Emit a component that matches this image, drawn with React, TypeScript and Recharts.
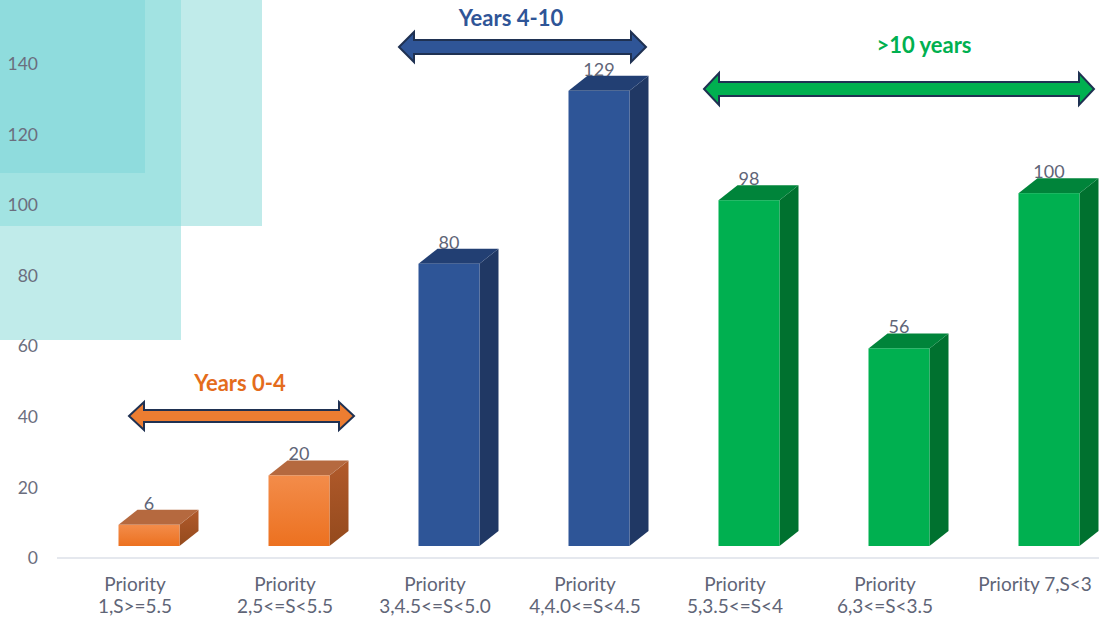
import { BarChart, Bar, XAxis, YAxis, LabelList } from 'recharts';

const categories = [
  'Priority 1,S>=5.5',
  'Priority 2,5<=S<5.5',
  'Priority 3,4.5<=S<5.0',
  'Priority 4,4.0<=S<4.5',
  'Priority 5,3.5<=S<4',
  'Priority 6,3<=S<3.5',
  'Priority 7,S<3',
];
const counts = [6, 20, 80, 129, 98, 56, 100];
const yTicks = [0, 20, 40, 60, 80, 100, 120, 140];

const data = categories.map((name, i) => ({ name, value: counts[i] }));

const FONT = 'Lato, "Open Sans", sans-serif';
const DX = 19;
const DY = 15;
const LIFT = 12;

const palette = [
  { front: 'url(#orangeFront)', side: 'url(#orangeSide)', top: '#b5693f' },
  { front: 'url(#orangeFront)', side: 'url(#orangeSide)', top: '#b5693f' },
  { front: '#2e5597', side: '#203864', top: '#223f73' },
  { front: '#2e5597', side: '#203864', top: '#223f73' },
  { front: '#00b050', side: '#00712f', top: '#00843a' },
  { front: '#00b050', side: '#00712f', top: '#00843a' },
  { front: '#00b050', side: '#00712f', top: '#00843a' },
];

function Bar3D(props: any) {
  const { x, y, width, height, index } = props;
  const c = palette[index];
  const top = y - LIFT;
  const bottom = top + height;
  const r = x + width;
  return (
    <g>
      <polygon
        points={`${r},${top} ${r + DX},${top - DY} ${r + DX},${bottom - DY} ${r},${bottom}`}
        fill={c.side}
      />
      <polygon
        points={`${x},${top} ${x + DX},${top - DY} ${r + DX},${top - DY} ${r},${top}`}
        fill={c.top}
      />
      <rect x={x} y={top} width={width} height={height} fill={c.front} />
    </g>
  );
}

function ValueLabel(props: any) {
  const { x, y, width, value } = props;
  return (
    <text x={x + width / 2} y={y - LIFT - 15} textAnchor="middle" fill="#5f6577" fontSize={18} fontFamily={FONT}>
      {value}
    </text>
  );
}

function CategoryTick(props: any) {
  const { x, y, payload } = props;
  const label: string = payload.value;
  const lines = label.length > 14 ? [label.slice(0, label.indexOf(' ')), label.slice(label.indexOf(' ') + 1)] : [label];
  return (
    <text x={x - 13.5} y={y} textAnchor="middle" fill="#5f6577" fontSize={19} fontFamily={FONT}>
      {lines.map((ln, i) => (
        <tspan key={i} x={x - 13.5} dy={i === 0 ? 25 : 22}>
          {ln}
        </tspan>
      ))}
    </text>
  );
}

function arrowPoints(x1: number, x2: number, cy: number, h: number, H: number, t: number) {
  return [
    [x1, cy], [x1 + h, cy - H], [x1 + h, cy - t], [x2 - h, cy - t], [x2 - h, cy - H],
    [x2, cy], [x2 - h, cy + H], [x2 - h, cy + t], [x1 + h, cy + t], [x1 + h, cy + H],
  ].map((p) => p.join(',')).join(' ');
}

export default function App() {
  return (
    <div style={{ position: 'absolute', left: 0, top: 0, width: 1099, height: 626, overflow: 'hidden', background: '#fff' }}>
      {/* teal decoration top-left */}
      <div style={{ position: 'absolute', left: 0, top: 0, width: 262, height: 226, background: '#c0ebea' }} />
      <div style={{ position: 'absolute', left: 0, top: 0, width: 181, height: 340, background: '#c0ebea' }} />
      <div style={{ position: 'absolute', left: 0, top: 0, width: 181, height: 226, background: '#a2e3e2' }} />
      <div style={{ position: 'absolute', left: 0, top: 0, width: 145, height: 173, background: '#8fdcdd' }} />

      <div style={{ position: 'absolute', left: 0, top: 0 }}>
        <BarChart width={1124} height={626} data={data} margin={{ top: 64, right: 0, bottom: 0, left: 0 }}>
          <defs>
            <linearGradient id="orangeFront" x1="0" y1="0" x2="0" y2="1">
              <stop offset="0%" stopColor="#f38c4a" />
              <stop offset="100%" stopColor="#ec7120" />
            </linearGradient>
            <linearGradient id="orangeSide" x1="0" y1="0" x2="0" y2="1">
              <stop offset="0%" stopColor="#b15a2b" />
              <stop offset="100%" stopColor="#944a1d" />
            </linearGradient>
          </defs>
          <XAxis
            dataKey="name"
            height={68}
            padding={{ left: 16.5, right: 0.5 }}
            axisLine={{ stroke: '#dde0e8', strokeWidth: 1.5 }}
            tickLine={false}
            interval={0}
            tick={<CategoryTick />}
          />
          <YAxis
            width={57}
            domain={[0, 140]}
            ticks={yTicks}
            axisLine={false}
            tickLine={false}
            tickMargin={13}
            tick={{ fill: '#6b6e7e', fontSize: 17.5, fontFamily: FONT }}
          />
          <Bar dataKey="value" barSize={61} shape={<Bar3D />} isAnimationActive={false}>
            <LabelList dataKey="value" content={<ValueLabel />} />
          </Bar>
        </BarChart>
      </div>

      {/* range annotations */}
      <svg width={1099} height={626} style={{ position: 'absolute', left: 0, top: 0, pointerEvents: 'none' }}>
        <polygon points={arrowPoints(129, 354, 416, 15, 14, 6)} fill="#ed7d31" stroke="#1f3152" strokeWidth={2} />
        <polygon points={arrowPoints(399, 646, 47, 15, 15, 7)} fill="#2f5597" stroke="#1f3152" strokeWidth={2} />
        <polygon points={arrowPoints(704, 1094, 89, 15, 16, 7)} fill="#00b050" stroke="#1f3152" strokeWidth={2} />
        <text x={240} y={391} textAnchor="middle" fill="#e46c1c" fontSize={22} fontWeight="bold" fontFamily={FONT}>
          Years 0-4
        </text>
        <text x={511} y={26} textAnchor="middle" fill="#2f5597" fontSize={22} fontWeight="bold" fontFamily={FONT}>
          Years 4-10
        </text>
        <text x={924} y={53} textAnchor="middle" fill="#00b050" fontSize={22} fontWeight="bold" fontFamily={FONT}>
          {'>10 years'}
        </text>
      </svg>
    </div>
  );
}
